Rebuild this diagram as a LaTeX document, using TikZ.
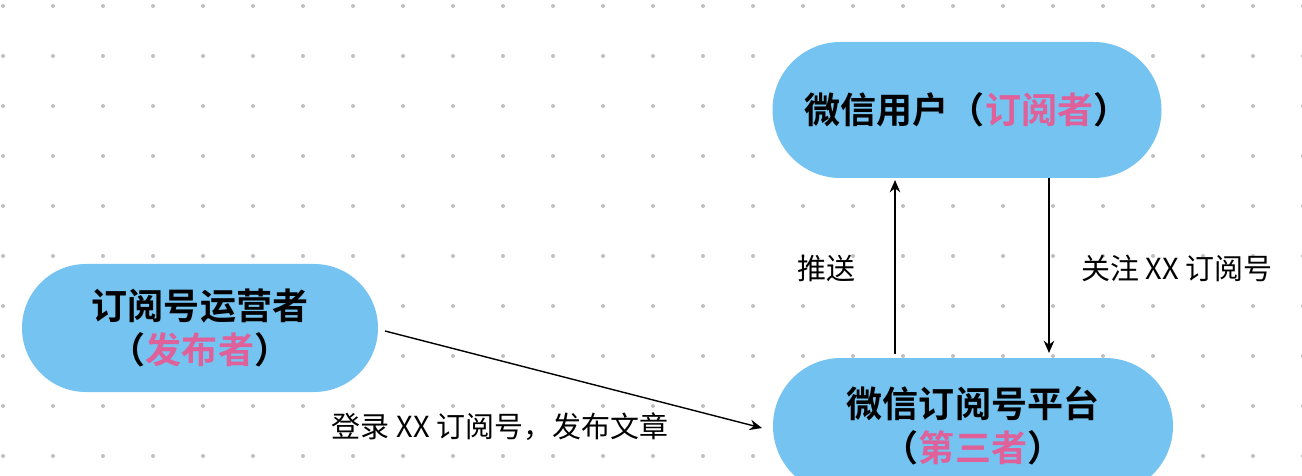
\documentclass[tikz,border=0pt]{standalone}
\usepackage{fontspec}
\setmainfont{Noto Sans CJK SC}
\newfontfamily\cjkbold{Noto Sans CJK SC Bold}
\usetikzlibrary{arrows.meta,positioning}
\definecolor{NodeBlue}{HTML}{74C3F1}
\definecolor{RolePink}{HTML}{E0609A}
\definecolor{DotGray}{HTML}{BFBFBF}
\begin{document}
\begin{tikzpicture}[
          x=0.02cm, y=-0.02cm,
          pill/.style={rectangle, fill=NodeBlue, align=center, font=\cjkbold\fontsize{20.5}{25}\selectfont, inner sep=0pt},
          arrow/.style={-{Stealth[length=7pt,width=6pt]}, thick},
          lbl/.style={font=\fontsize{16.5}{19}\selectfont, inner sep=1pt}
        ]
          % Background and dotted grid
          \useasboundingbox (0,0) rectangle (1302,476);
          \fill[white] (0,0) rectangle (1302,476);
          \foreach \gx in {0,...,26} {
            \foreach \gy in {0,...,9} {
              \fill[DotGray] ({3+50*\gx},{6+50*\gy}) circle (2);
            }
          }
          
          % Nodes
          \node[pill, minimum width=389*0.02cm, minimum height=136*0.02cm, rounded corners=68*0.02cm] (user) at (967,110) {微信用户（{\color{RolePink}订阅者}）};
          \node[pill, minimum width=356*0.02cm, minimum height=128*0.02cm, rounded corners=64*0.02cm] (pub) at (200,328) {订阅号运营者\\（{\color{RolePink}发布者}）};
          \node[pill, minimum width=400*0.02cm, minimum height=136*0.02cm, rounded corners=68*0.02cm] (plat) at (973,426) {微信订阅号平台\\（{\color{RolePink}第三者}）};
          
          % Connectors
          \coordinate (pubout) at (385,331);
          \coordinate (platin) at (762,428);
          \draw[arrow] (pubout) -- (platin);
          \draw[arrow] (plat.north -| 895,0) ++(0,-4) -- (895,180);
          \draw[arrow] (user.south -| 1049,0) -- (1049,353);
          
          % Labels
          \node[lbl] (push) at (826,268) {推送};
          \node[lbl] (follow) at (1177,268) {关注 XX 订阅号};
          \node[lbl] (login) at (500,427) {登录 XX 订阅号，发布文章};
        \end{tikzpicture}
\end{document}
